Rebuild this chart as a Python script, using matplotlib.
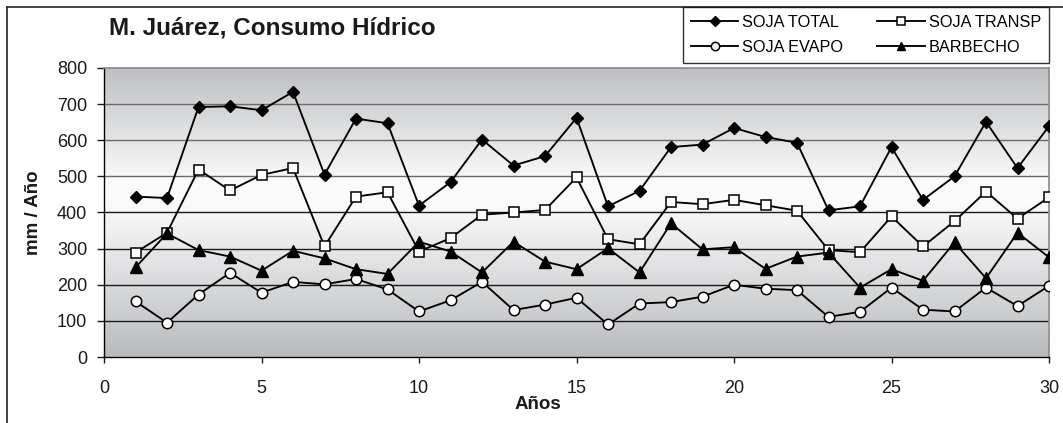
import numpy as np
import matplotlib
matplotlib.use("Agg")
import matplotlib.pyplot as plt
from matplotlib.colors import LinearSegmentedColormap
from matplotlib.lines import Line2D

plt.rcParams['font.family'] = ['Liberation Sans', 'DejaVu Sans']

# data
years = list(range(1, 31))
soja_total = [444, 440, 692, 694, 683, 734, 505, 660, 647, 419,
              484, 602, 530, 556, 662, 417, 460, 581, 588, 634,
              609, 593, 406, 417, 581, 435, 500, 651, 523, 639]
soja_transp = [289, 344, 519, 461, 504, 523, 306, 444, 456, 292,
               329, 394, 400, 407, 497, 326, 312, 429, 423, 435,
               420, 405, 296, 290, 389, 306, 376, 458, 383, 442]
soja_evapo = [154, 95, 173, 233, 178, 208, 201, 216, 187, 126,
              157, 208, 130, 145, 164, 90, 148, 152, 167, 200,
              189, 185, 111, 125, 192, 131, 126, 192, 141, 197]
barbecho = [248, 342, 296, 278, 239, 294, 273, 243, 230, 319,
            292, 234, 319, 264, 243, 301, 234, 370, 298, 304,
            244, 278, 289, 192, 243, 211, 317, 218, 344, 276]

W, H = 1063, 423
fig = plt.figure(figsize=(W / 100, H / 100), dpi=100)
ax = fig.add_axes([104 / W, 1 - 357 / H, 945 / W, 289 / H])

# gradient background of the plot area
cmap = LinearSegmentedColormap.from_list(
    "bg", [(0.0, "#b9bbbe"), (0.53, "#fbfbfb"), (0.6, "#fbfbfb"), (1.0, "#bdbfc2")])
grad = np.linspace(0, 1, 256).reshape(-1, 1)
ax.imshow(grad, cmap=cmap, aspect='auto', extent=[0, 30, 0, 800],
          origin='lower', zorder=0, interpolation='bicubic')

ax.set_xlim(0, 30)
ax.set_ylim(0, 800)
ax.set_xticks(range(0, 31, 5))
ax.set_yticks(range(0, 801, 100))

for yv in range(100, 800, 100):
    c = '#6a6a6a' if yv >= 500 else '#1a1a1a'
    ax.axhline(yv, color=c, lw=1.0, zorder=1)

lw = 1.35
ax.plot(years, soja_total, color='black', lw=lw, marker='D', ms=6,
        mfc='black', mec='black', label='SOJA TOTAL', zorder=3)
ax.plot(years, soja_transp, color='black', lw=lw, marker='s', ms=7.5,
        mfc='white', mec='black', mew=1.1, label='SOJA TRANSP', zorder=3)
ax.plot(years, soja_evapo, color='black', lw=lw, marker='o', ms=7.5,
        mfc='white', mec='black', mew=1.1, label='SOJA EVAPO', zorder=3)
ax.plot(years, barbecho, color='black', lw=lw, marker='^', ms=8,
        mfc='black', mec='black', label='BARBECHO', zorder=3)

for s in ['top', 'right']:
    ax.spines[s].set_color('#8a8a8a')
    ax.spines[s].set_linewidth(1.2)
for s in ['left', 'bottom']:
    ax.spines[s].set_color('black')
    ax.spines[s].set_linewidth(1.0)

ax.tick_params(axis='y', direction='out', length=5, width=1, pad=7,
               labelsize=13, colors='#1a1a1a')
ax.tick_params(axis='x', direction='out', length=4.5, width=1, pad=12,
               labelsize=13, colors='#1a1a1a')

ax.set_ylabel('mm / Año', fontsize=13.5, fontweight='bold', color='#1a1a1a')
ax.yaxis.set_label_coords((33 - 104) / 945, 0.5)
ax.yaxis.label.set_va('center')
ax.set_xlabel('Años', fontsize=13.5, fontweight='bold', color='#1a1a1a')
ax.xaxis.set_label_coords((538 - 104) / 945, (357 - 404) / 289)
ax.xaxis.label.set_va('center')

fig.text(272 / W, 1 - 28 / H, 'M. Juárez, Consumo Hídrico', fontsize=17.5,
         fontweight='bold', ha='center', va='center', color='#1a1a1a')

h, l = ax.get_legend_handles_labels()
order = [0, 2, 1, 3]
leg = fig.legend([h[i] for i in order], [l[i] for i in order], ncol=2,
                 loc='upper right', bbox_to_anchor=(1049 / W, 1 - 7 / H),
                 borderaxespad=0, fontsize=11.7, frameon=True, fancybox=False,
                 edgecolor='black', handlelength=2.9, handletextpad=0.25,
                 columnspacing=2.1, labelspacing=0.6, borderpad=0.5,
                 markerscale=0.8)
leg.get_frame().set_linewidth(1.0)

# outer chart frame (only left and top visible)
fig.add_artist(Line2D([7 / W, 7 / W], [0, 1 - 7 / H], transform=fig.transFigure,
                      color='#333333', lw=1.3))
fig.add_artist(Line2D([7 / W, 1], [1 - 7 / H, 1 - 7 / H], transform=fig.transFigure,
                      color='#333333', lw=1.3))

fig.savefig('out.png', dpi=100, facecolor='white')
